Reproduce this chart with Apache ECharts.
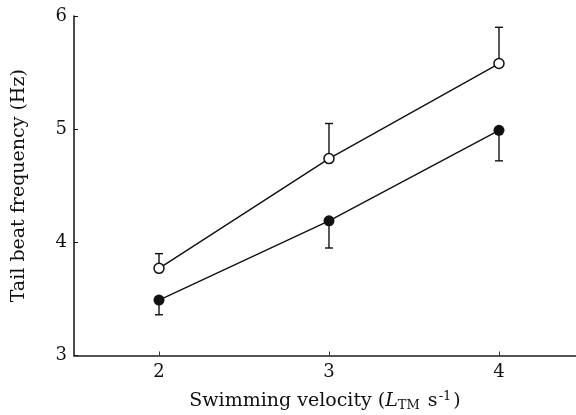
<!DOCTYPE html>
<html>
<head>
<meta charset="utf-8">
<script src="https://cdn.jsdelivr.net/npm/echarts@6/dist/echarts.min.js"></script>
<style>
html,body{margin:0;padding:0;background:#fff;}
#main{width:576px;height:415px;}
</style>
</head>
<body>
<div id="main"></div>
<script>
// swimming velocity (L_TM s-1)
var velocities = [2, 3, 4];
// open circles: mean and upward SD
var openMean = [3.77, 4.74, 5.58];
var openErr = [0.13, 0.31, 0.32];
// filled circles: mean and downward SD
var filledMean = [3.49, 4.19, 4.99];
var filledErr = [0.13, 0.24, 0.27];
var xTicks = [2, 3, 4];

var font = 'DejaVu Serif';

function pairs(xs, ys) {
	var out = [];
	for (var i = 0; i < xs.length; i++) out.push([xs[i], ys[i]]);
	return out;
}
function errData(xs, ys, es, dir) {
	var out = [];
	for (var i = 0; i < xs.length; i++) out.push([xs[i], ys[i], ys[i] + dir * es[i]]);
	return out;
}
function errRender(params, api) {
	var p0 = api.coord([api.value(0), api.value(1)]);
	var p1 = api.coord([api.value(0), api.value(2)]);
	var cap = 4;
	var st = { stroke: '#111', lineWidth: 1.4 };
	return {
		type: 'group',
		children: [
			{ type: 'line', shape: { x1: p0[0], y1: p0[1], x2: p1[0], y2: p1[1] }, style: st },
			{ type: 'line', shape: { x1: p1[0] - cap, y1: p1[1], x2: p1[0] + cap, y2: p1[1] }, style: st }
		]
	};
}

var chart = echarts.init(document.getElementById('main'));
var option = {
	animation: false,
	grid: { left: 74, top: 16, right: 0, bottom: 59.5, outerBoundsMode: 'none', containLabel: false },
	xAxis: {
		type: 'value',
		min: 1.5,
		max: 4.453,
		axisLine: { lineStyle: { color: '#555', width: 2 } },
		axisTick: { inside: true, length: 4, customValues: xTicks, lineStyle: { color: '#333', width: 1 } },
		axisLabel: { customValues: xTicks, margin: 8, color: '#111', fontFamily: font, fontSize: 18 },
		splitLine: { show: false },
		name: '{t|Swimming velocity (}{i|L}{s|TM}{t| s}{u|-1}{t|)}',
		nameLocation: 'middle',
		nameGap: 35,
		nameTextStyle: {
			rich: {
				t: { fontFamily: font, fontSize: 19, color: '#111' },
				i: { fontFamily: font, fontSize: 19, fontStyle: 'italic', color: '#111' },
				s: { fontFamily: font, fontSize: 13, color: '#111', verticalAlign: 'bottom', padding: [7, 2, 0, 0] },
				u: { fontFamily: font, fontSize: 13, color: '#111', verticalAlign: 'top', padding: [0, 2, 9, 1] }
			}
		}
	},
	yAxis: {
		type: 'value',
		min: 3,
		max: 6,
		interval: 1,
		axisLine: { show: true, lineStyle: { color: '#111', width: 1.5 } },
		axisTick: { show: true, inside: true, length: 4, lineStyle: { color: '#111', width: 1 } },
		axisLabel: { margin: 7, color: '#111', fontFamily: font, fontSize: 18 },
		splitLine: { show: false },
		name: 'Tail beat frequency (Hz)',
		nameLocation: 'middle',
		nameGap: 45,
		nameTextStyle: { fontFamily: font, fontSize: 19, color: '#111' }
	},
	series: [
		{
			type: 'custom',
			renderItem: errRender,
			data: errData(velocities, openMean, openErr, 1),
			z: 1
		},
		{
			type: 'custom',
			renderItem: errRender,
			data: errData(velocities, filledMean, filledErr, -1),
			z: 1
		},
		{
			type: 'line',
			data: pairs(velocities, openMean),
			symbol: 'circle',
			symbolSize: 10,
			lineStyle: { color: '#111', width: 1.4 },
			itemStyle: { color: '#fff', borderColor: '#111', borderWidth: 1.5 },
			z: 3
		},
		{
			type: 'line',
			data: pairs(velocities, filledMean),
			symbol: 'circle',
			symbolSize: 11,
			lineStyle: { color: '#111', width: 1.4 },
			itemStyle: { color: '#111', borderColor: '#111', borderWidth: 0 },
			z: 3
		}
	]
};
chart.setOption(option);
</script>
</body>
</html>
